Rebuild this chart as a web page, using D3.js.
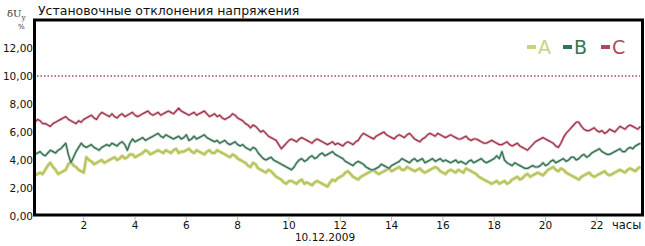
<!DOCTYPE html>
<html>
<head>
<meta charset="utf-8">
<script src="https://d3js.org/d3.v7.min.js"></script>
<style>
  body { margin: 0; background: #fff; font-family: 'DejaVu Sans', sans-serif; }
  svg { display: block; }
</style>
</head>
<body>
<svg></svg>
<script>
// chart size
const width = 645, height = 246;
const marginTop = 20, marginRight = 2, marginBottom = 31, marginLeft = 35;

// hours on the axis
const hourTicks = [2, 4, 6, 8, 10, 12, 14, 16, 18, 20, 22];
const yTicks = [0, 2, 4, 6, 8, 10, 12];
const limit = 10; // dotted line
const startHour = 0.1, stepHour = 0.1;

const seriesA = [
  2.9,3.0, 3.1,3.0, 3.3,3.6, 3.8,3.5, 3.3,3.0, 3.1,3.2, 3.3,3.7, 3.9,3.6, 3.5,3.3, 3.2,3.1,
  4.2,4.0, 3.9,3.7, 3.8,3.9, 4.0,3.8, 3.9,4.0, 4.1,4.2, 4.0,4.1, 4.3,4.1, 4.2,4.4, 4.4,4.2,
  4.3,4.4, 4.5,4.7, 4.6,4.4, 4.5,4.6, 4.7,4.6, 4.5,4.7, 4.6,4.5, 4.7,4.8, 4.5,4.6, 4.6,4.7,
  4.8,4.6, 4.5,4.7, 4.6,4.5, 4.4,4.6, 4.7,4.5, 4.5,4.7, 4.6,4.5, 4.4,4.3, 4.2,4.4, 4.3,4.1,
  4.0,3.9, 3.8,3.6, 3.5,3.8, 3.7,3.4, 3.3,3.2, 3.1,3.3, 3.2,3.0, 2.8,2.7, 2.6,2.4, 2.3,2.5,
  2.5,2.4, 2.3,2.5, 2.6,2.3, 2.4,2.3, 2.2,2.4, 2.5,2.4, 2.3,2.2, 2.1,2.4, 2.6,2.5, 2.7,2.8,
  2.9,3.1, 3.2,3.0, 2.8,2.7, 2.6,2.8, 2.9,3.0, 3.1,3.2, 3.3,3.1, 3.0,3.1, 3.2,3.3, 3.4,3.2,
  3.3,3.4, 3.5,3.3, 3.3,3.5, 3.4,3.3, 3.2,3.3, 3.4,3.2, 3.1,3.2, 3.3,3.4, 3.5,3.4, 3.2,3.1,
  3.0,3.2, 3.3,3.2, 3.1,3.3, 3.2,3.1, 3.4,3.3, 3.2,3.1, 3.0,2.8, 2.7,2.6, 2.5,2.4, 2.3,2.4,
  2.5,2.3, 2.4,2.5, 2.3,2.4, 2.6,2.7, 2.8,2.6, 2.7,2.9, 3.0,2.8, 2.9,3.0, 3.1,3.0, 2.9,3.1,
  3.3,3.4, 3.5,3.3, 3.2,3.4, 3.3,3.1, 3.0,2.9, 2.8,2.7, 2.6,2.8, 2.9,3.0, 3.1,2.9, 2.8,2.9,
  3.0,3.1, 3.2,3.0, 2.9,3.0, 3.1,3.2, 3.3,3.2, 3.1,3.3, 3.4,3.3, 3.2,3.4, 3.5
];
const seriesB = [
  4.4,4.5, 4.6,4.4, 4.3,4.5, 4.7,4.6, 4.5,4.7, 4.8,5.0, 5.2,4.4, 3.8,4.2, 4.6,4.9, 5.2,5.0,
  4.9,5.0, 5.1,4.9, 4.8,4.7, 4.9,5.0, 5.1,5.0, 5.2,5.1, 5.0,5.2, 5.3,5.1, 4.7,5.2, 5.5,5.3,
  5.4,5.5, 5.6,5.4, 5.5,5.6, 5.7,5.8, 5.9,5.7, 5.6,5.8, 5.7,5.6, 5.5,5.6, 5.7,5.5, 5.6,5.8,
  5.4,5.5, 5.7,5.5, 5.6,5.7, 5.8,5.6, 5.5,5.4, 5.3,5.4, 5.2,5.3, 5.4,5.2, 5.1,5.2, 5.3,5.1,
  5.0,5.1, 4.9,4.8, 4.7,4.9, 4.8,4.5, 4.3,4.1, 4.0,4.1, 4.2,4.0, 3.9,3.8, 3.7,3.6, 3.5,3.4,
  3.3,3.5, 3.8,4.0, 4.1,3.9, 4.0,4.2, 4.3,4.1, 4.2,4.4, 4.5,4.3, 4.4,4.5, 4.6,4.4, 4.3,4.2,
  4.1,3.9, 3.8,3.7, 3.6,3.8, 3.9,3.8, 3.7,3.5, 3.4,3.3, 3.3,3.4, 3.5,3.7, 3.6,3.5, 3.4,3.6,
  3.7,3.8, 3.9,4.1, 4.0,3.9, 3.8,4.0, 4.1,3.9, 4.0,4.1, 3.8,3.9, 4.0,4.1, 3.9,4.0, 4.1,3.9,
  4.0,3.9, 3.8,3.9, 4.0,3.8, 3.9,3.8, 3.7,3.9, 4.0,3.8, 3.9,4.0, 4.1,3.9, 3.8,3.9, 4.0,4.1,
  4.3,4.1, 4.6,4.0, 3.8,3.7, 3.6,3.8, 3.7,3.6, 3.5,3.4, 3.4,3.5, 3.6,3.5, 3.5,3.6, 3.8,3.6,
  3.7,3.9, 4.0,3.8, 3.9,4.0, 4.1,3.9, 4.0,4.2, 4.2,4.0, 4.1,4.3, 4.4,4.2, 4.3,4.5, 4.6,4.7,
  4.8,4.6, 4.5,4.4, 4.4,4.5, 4.6,4.7, 4.8,4.6, 4.6,4.8, 4.9,4.8, 5.0,5.1, 5.2
];
const seriesC = [
  6.7,6.9, 6.8,6.6, 6.6,6.5, 6.4,6.6, 6.7,6.8, 6.9,7.0, 7.1,6.9, 6.8,6.7, 6.6,6.8, 6.7,6.9,
  7.0,7.1, 7.2,7.0, 6.9,7.2, 7.4,7.3, 7.2,7.1, 7.3,7.1, 7.0,7.2, 7.3,7.1, 7.2,7.3, 7.4,7.2,
  7.1,7.2, 7.3,7.4, 7.5,7.3, 7.2,7.3, 7.4,7.2, 7.3,7.4, 7.5,7.4, 7.3,7.5, 7.7,7.5, 7.4,7.3,
  7.2,7.3, 7.4,7.2, 7.3,7.4, 7.5,7.3, 7.1,7.2, 7.3,7.1, 7.2,7.0, 6.9,7.0, 7.1,7.3, 7.2,7.0,
  6.9,6.8, 6.6,6.5, 6.3,6.5, 6.4,6.2, 6.0,6.1, 5.9,5.7, 5.6,5.5, 5.4,5.1, 4.8,5.0, 5.2,5.4,
  5.5,5.4, 5.3,5.5, 5.6,5.5, 5.4,5.3, 5.2,5.4, 5.5,5.4, 5.3,5.2, 5.1,5.2, 5.3,5.1, 5.2,5.1,
  5.0,5.2, 5.3,5.2, 5.1,5.3, 5.4,5.7, 5.9,5.8, 5.7,5.6, 5.5,5.7, 5.8,5.9, 6.0,5.8, 5.7,5.6,
  5.5,5.7, 5.8,5.7, 5.6,5.8, 5.9,5.7, 5.5,5.4, 5.3,5.5, 5.6,5.8, 5.9,5.8, 5.7,5.9, 5.8,5.7,
  5.6,5.7, 5.8,5.7, 5.6,5.5, 5.5,5.6, 5.7,5.5, 5.4,5.5, 5.5,5.4, 5.3,5.2, 5.2,5.3, 5.4,5.3,
  5.2,5.1, 5.1,5.2, 5.3,5.1, 5.0,5.1, 5.2,5.0, 4.9,4.8, 4.7,4.9, 5.1,5.3, 5.4,5.5, 5.6,5.5,
  5.4,5.3, 5.2,5.0, 4.9,5.2, 5.6,5.9, 6.1,6.3, 6.5,6.7, 6.7,6.4, 6.2,6.1, 6.1,6.2, 6.3,6.1,
  6.0,6.1, 5.9,6.0, 6.2,6.1, 6.0,6.2, 6.4,6.3, 6.2,6.4, 6.5,6.4, 6.3,6.2, 6.4
];

const series = [
  { name: "A", values: seriesA, color: "#b9c55c", halo: "#e2e6bc", text: "#c9d27e", w: 2.2 },
  { name: "B", values: seriesB, color: "#2f6d4d", halo: "#b4cabd", text: "#347454", w: 1.2 },
  { name: "C", values: seriesC, color: "#9e2f47", halo: "#e0b9c2", text: "#ad4a60", w: 1.2 }
];

const x = d3.scaleLinear()
  .domain([0.1, 23.8])
  .range([marginLeft, width - marginRight]);

const y = d3.scaleLinear()
  .domain([0, 14])
  .range([height - marginBottom + 1, marginTop]);

const svg = d3.select("svg")
  .attr("width", width)
  .attr("height", height)
  .attr("viewBox", [0, 0, width, height]);

// title
svg.append("text")
  .attr("x", 38).attr("y", 15)
  .attr("font-size", 12.5)
  .attr("fill", "#111")
  .text("Установочные отклонения напряжения");

// y unit
svg.append("text")
  .attr("x", 7).attr("y", 17)
  .attr("font-size", 10)
  .attr("font-family", "'DejaVu Serif', serif")
  .attr("fill", "#333")
  .text("δU")
  .append("tspan").attr("font-size", 7).attr("dy", 3).text("у");
svg.append("text")
  .attr("x", 18).attr("y", 29)
  .attr("font-size", 7)
  .attr("fill", "#333")
  .text("%");

// y axis labels
svg.append("g")
  .selectAll("text")
  .data(yTicks)
  .join("text")
    .attr("x", marginLeft - 2)
    .attr("y", d => y(d) + 4)
    .attr("text-anchor", "end")
    .attr("font-size", 10.5)
    .attr("fill", "#111")
    .text(d => d3.format(".2f")(d).replace(".", ","));

// x axis ticks + labels
const xg = svg.append("g");
xg.selectAll("line")
  .data(hourTicks)
  .join("line")
    .attr("x1", d => x(d)).attr("x2", d => x(d))
    .attr("y1", height - marginBottom + 2).attr("y2", height - marginBottom + 6)
    .attr("stroke", "#bbb");
xg.selectAll("text")
  .data(hourTicks)
  .join("text")
    .attr("x", d => x(d))
    .attr("y", height - marginBottom + 14)
    .attr("text-anchor", "middle")
    .attr("font-size", 10.5)
    .attr("fill", "#111")
    .text(d => d);
svg.append("text")
  .attr("x", 612).attr("y", height - marginBottom + 14)
  .attr("font-size", 11.5).attr("fill", "#111")
  .text("часы");
svg.append("text")
  .attr("x", 325).attr("y", 241)
  .attr("text-anchor", "middle")
  .attr("font-size", 10.5).attr("fill", "#111")
  .text("10.12.2009");

// dotted limit line
svg.append("line")
  .attr("x1", x(0.1) + 2).attr("x2", width - marginRight - 3)
  .attr("y1", y(limit)).attr("y2", y(limit))
  .attr("stroke", "#a8485e")
  .attr("stroke-width", 1.5)
  .attr("stroke-dasharray", "1.5,2");

// series lines
const line = d3.line()
  .x((d, i) => x(startHour + i * stepHour))
  .y(d => y(d));

series.forEach(s => {
  svg.append("path")
    .datum(s.values)
    .attr("fill", "none")
    .attr("stroke", s.halo)
    .attr("stroke-width", s.w + 1.6)
    .attr("stroke-linejoin", "round")
    .attr("d", line);
  svg.append("path")
    .datum(s.values)
    .attr("fill", "none")
    .attr("stroke", s.color)
    .attr("stroke-width", s.w)
    .attr("stroke-linejoin", "round")
    .attr("d", line);
});

// legend
const legendX = [527, 563, 601];
const legend = svg.append("g")
  .selectAll("g")
  .data(series)
  .join("g")
    .attr("transform", (d, i) => `translate(${legendX[i]},47)`);
legend.append("line")
  .attr("x1", 0).attr("x2", 9)
  .attr("stroke", d => d.text)
  .attr("stroke-width", 4);
legend.append("text")
  .attr("x", 11).attr("y", 7)
  .attr("font-size", 19)
  .attr("font-family", "'DejaVu Sans', sans-serif")
  .attr("fill", d => d.text)
  .text(d => d.name);

// frame
svg.append("rect")
  .attr("x", marginLeft - 0.5).attr("y", marginTop)
  .attr("width", width - marginRight - marginLeft)
  .attr("height", height - marginBottom - marginTop)
  .attr("fill", "none")
  .attr("stroke", "#000")
  .attr("stroke-width", 3);
</script>
</body>
</html>
